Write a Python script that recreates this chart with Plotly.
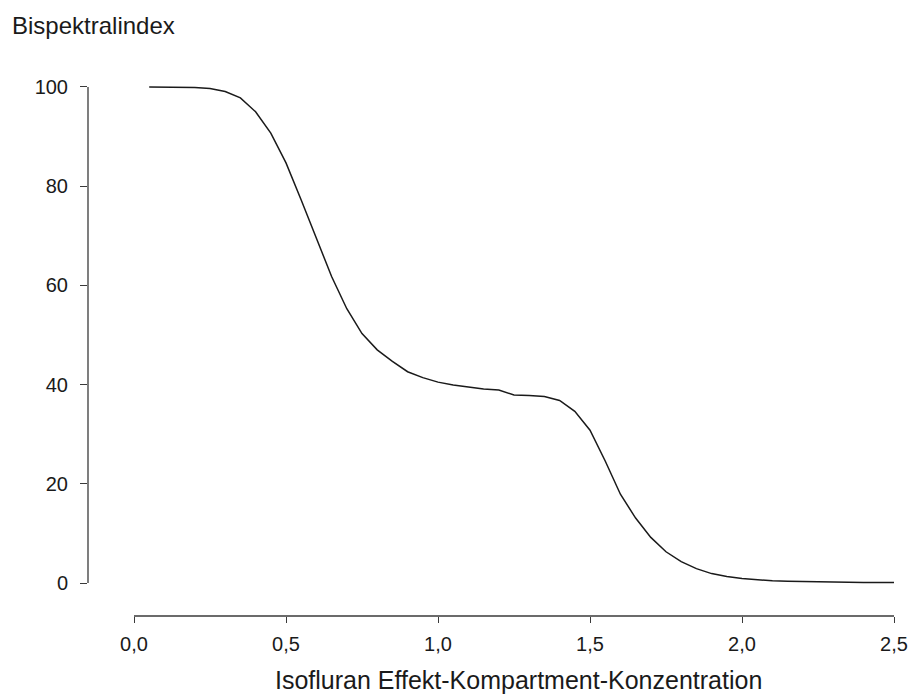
import plotly.graph_objects as go

# Data
konzentration = [0.05, 0.10, 0.15, 0.20, 0.25, 0.30, 0.35, 0.40, 0.45, 0.50,
                 0.55, 0.60, 0.65, 0.70, 0.75, 0.80, 0.85, 0.90, 0.95, 1.00,
                 1.05, 1.10, 1.15, 1.20, 1.25, 1.30, 1.35, 1.40, 1.45, 1.50,
                 1.55, 1.60, 1.65, 1.70, 1.75, 1.80, 1.85, 1.90, 1.95, 2.00,
                 2.05, 2.10, 2.15, 2.20, 2.25, 2.30, 2.35, 2.40, 2.45, 2.50]
bis = [100.0, 100.0, 100.0, 99.9, 99.7, 99.1, 97.8, 95.0, 90.7, 84.7,
       77.2, 69.6, 61.8, 55.3, 50.3, 47.0, 44.7, 42.6, 41.4, 40.5,
       39.9, 39.5, 39.1, 38.9, 37.9, 37.8, 37.6, 36.8, 34.6, 30.8,
       24.6, 17.9, 13.1, 9.2, 6.3, 4.3, 2.9, 1.9, 1.3, 0.9,
       0.6, 0.45, 0.35, 0.28, 0.22, 0.18, 0.15, 0.12, 0.10, 0.08]

x_ticks = [0.0, 0.5, 1.0, 1.5, 2.0, 2.5]
y_ticks = [0, 20, 40, 60, 80, 100]

W, H = 910, 698
L, R, T, B = 88, 10, 80, 82
pw, ph = W - L - R, H - T - B

axis_col = "#3a3a3a"
font_fam = "Liberation Sans, Arial, sans-serif"

fig = go.Figure()
fig.add_trace(go.Scatter(x=konzentration, y=bis, mode="lines",
                         line=dict(color="#1a1a1a", width=1.5),
                         showlegend=False, hoverinfo="skip"))

fig.update_layout(
    width=W, height=H,
    margin=dict(l=L, r=R, t=T, b=B, autoexpand=False),
    paper_bgcolor="white", plot_bgcolor="white",
    separators=",.",
    font=dict(family=font_fam, color="#1a1a1a"),
    xaxis=dict(range=[-0.1513, 2.5197], tickvals=x_ticks, tickformat=".1f",
               ticks="outside", ticklen=6, tickwidth=1.3, tickcolor=axis_col,
               showline=False, showgrid=False, zeroline=False, automargin=False,
               tickfont=dict(size=20, family=font_fam, color="#1a1a1a"),
               ticklabelstandoff=4),
    yaxis=dict(range=[-6.65, 101.41], tickvals=y_ticks,
               ticks="outside", ticklen=7, tickwidth=1.3, tickcolor=axis_col,
               showline=False, showgrid=False, zeroline=False, automargin=False,
               tickfont=dict(size=20, family=font_fam, color="#1a1a1a"),
               ticklabelstandoff=8),
    shapes=[
        dict(type="line", xref="paper", yref="y", x0=0, x1=0,
             y0=y_ticks[0], y1=y_ticks[-1], line=dict(color=axis_col, width=1.3)),
        dict(type="line", xref="x", yref="paper", x0=x_ticks[0], x1=x_ticks[-1],
             y0=0, y1=0, line=dict(color=axis_col, width=1.3)),
    ],
    annotations=[
        dict(text="Bispektralindex", xref="paper", yref="paper",
             x=(10 - L) / pw, y=(H - B - 26) / ph, xanchor="left", yanchor="middle",
             showarrow=False, font=dict(size=24, family=font_fam, color="#1a1a1a")),
        dict(text="Isofluran Effekt-Kompartment-Konzentration", xref="paper", yref="paper",
             x=(518 - L) / pw, y=(H - B - 680) / ph, xanchor="center", yanchor="middle",
             showarrow=False, font=dict(size=25, family=font_fam, color="#1a1a1a")),
    ],
)

fig.write_html("out.html")
